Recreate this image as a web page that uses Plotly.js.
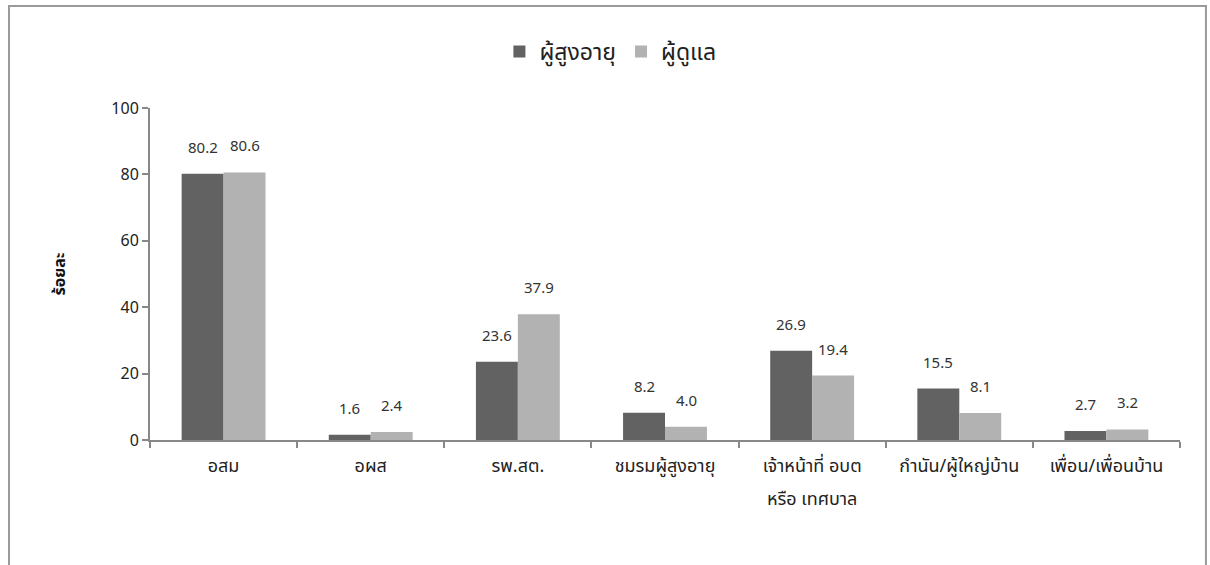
<!DOCTYPE html>
<html>
<head>
<meta charset="utf-8">
<script src="https://cdn.plot.ly/plotly-3.0.1.min.js"></script>
<style>
  html, body { margin: 0; padding: 0; background: #fff; }
  #chart { width: 1210px; height: 565px; }
</style>
</head>
<body>
<div id="chart"></div>
<script>
const categories = ["อสม", "อผส", "รพ.สต.", "ชมรมผู้สูงอายุ", "เจ้าหน้าที่ อบต<br>หรือ เทศบาล", "กำนัน/ผู้ใหญ่บ้าน", "เพื่อน/เพื่อนบ้าน"];
const elderly = [80.2, 1.6, 23.6, 8.2, 26.9, 15.5, 2.7];
const caregiver = [80.6, 2.4, 37.9, 4.0, 19.4, 8.1, 3.2];
const seriesNames = ["ผู้สูงอายุ", "ผู้ดูแล"];
const yTicks = [0, 20, 40, 60, 80, 100];

const FONT = "Tahoma, 'Noto Sans Thai', 'Noto Sans', sans-serif";

const traces = [
  {
    type: "bar", name: seriesNames[0], x: categories, y: elderly,
    marker: { color: "#626262" }, hoverinfo: "x+y"
  },
  {
    type: "bar", name: seriesNames[1], x: categories, y: caregiver,
    marker: { color: "#b2b2b2" }, hoverinfo: "x+y"
  }
];

// value labels above each bar (positioned via the axes' own scales)
const BAR_HALF = 21;
const annotations = [];
[elderly, caregiver].forEach((series, si) => {
  series.forEach((v, i) => {
    annotations.push({
      x: categories[i], y: v, xref: "x", yref: "y",
      text: v.toFixed(1), showarrow: false,
      xanchor: "center", yanchor: "bottom",
      xshift: si === 0 ? -BAR_HALF : BAR_HALF, yshift: 12,
      font: { family: FONT, size: 15, color: "#333" }
    });
  });
});

// first line of each category label as tick text; further lines drawn below with wider spacing
const tickText = categories.map(c => c.split("<br>")[0]);
categories.forEach(c => {
  const lines = c.split("<br>");
  lines.slice(1).forEach((ln, k) => {
    annotations.push({
      x: c, y: 0, xref: "x", yref: "paper",
      text: ln, showarrow: false, xanchor: "center", yanchor: "top",
      yshift: -44 - 32 * k,
      font: { family: FONT, size: 18, color: "#222" }
    });
  });
});

const layout = {
  width: 1210, height: 565,
  margin: { l: 150, r: 30, t: 108, b: 125 },
  paper_bgcolor: "#fff", plot_bgcolor: "#fff",
  font: { family: FONT, size: 16, color: "#222" },
  barmode: "group", bargap: 0.43, bargroupgap: 0,
  showlegend: true,
  legend: {
    orientation: "h", x: 0.447, xanchor: "center", y: 1.17, yanchor: "middle",
    bgcolor: "rgba(0,0,0,0)",
    font: { family: FONT, size: 23, color: "#222" },
    traceorder: "normal"
  },
  xaxis: {
    type: "category", showgrid: false, showline: true, linecolor: "#888", linewidth: 2,
    ticks: "outside", ticklen: 6, tickcolor: "#888", tickwidth: 2,
    tickson: "boundaries", ticklabelstandoff: 8,
    tickmode: "array", tickvals: categories, ticktext: tickText,
    tickfont: { family: FONT, size: 18, color: "#222" }
  },
  yaxis: {
    range: [0, 100], tickvals: yTicks, showgrid: false, zeroline: false,
    showline: true, linecolor: "#888", linewidth: 2,
    ticks: "outside", ticklen: 6, tickcolor: "#888", tickwidth: 2,
    tickfont: { family: FONT, size: 16, color: "#222" },
    title: { text: "<b>ร้อยละ</b>", font: { family: FONT, size: 16, color: "#111" }, standoff: 42 }
  },
  annotations: annotations,
  shapes: [{
    type: "rect", xref: "paper", yref: "paper",
    x0: -0.1369, x1: 1.0252, y0: -0.40, y1: 1.307,
    line: { color: "#9a9a9a", width: 2 }, fillcolor: "rgba(0,0,0,0)", layer: "below"
  }]
};

Plotly.newPlot("chart", traces, layout, { displayModeBar: false, staticPlot: true });
</script>
</body>
</html>
